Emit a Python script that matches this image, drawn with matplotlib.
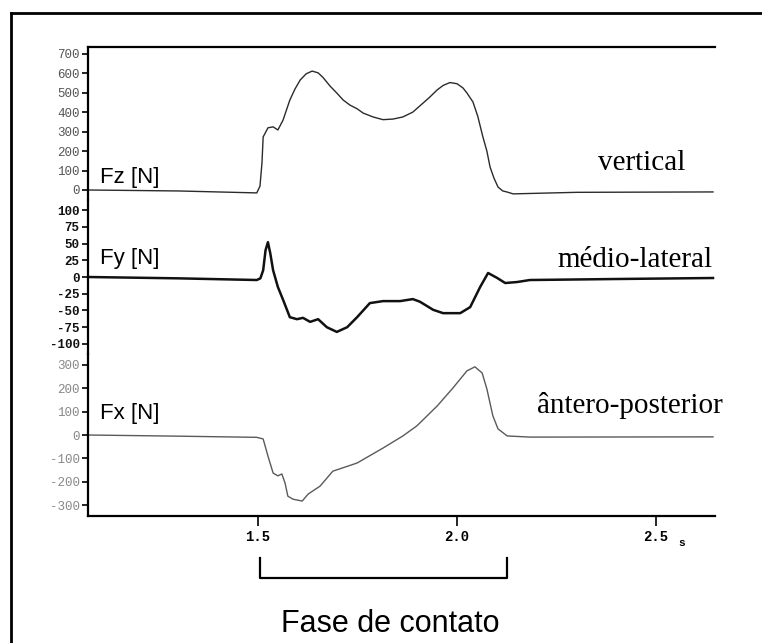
import numpy as np
import matplotlib.pyplot as plt
from matplotlib.lines import Line2D
from matplotlib.transforms import blended_transform_factory

# ground reaction force during one step (time in s, force in N)
fz_t = [1.073, 1.30, 1.497, 1.505, 1.510, 1.513, 1.525, 1.538, 1.550, 1.563,
        1.580, 1.593, 1.606, 1.621, 1.636, 1.651, 1.663, 1.681, 1.698, 1.714,
        1.731, 1.749, 1.764, 1.789, 1.814, 1.839, 1.864, 1.889, 1.915, 1.932,
        1.950, 1.965, 1.982, 2.000, 2.015, 2.025, 2.040, 2.052, 2.065, 2.075,
        2.083, 2.093, 2.103, 2.115, 2.125, 2.141, 2.30, 2.643]
fz = [0, -5, -15, 20, 139, 273, 320, 325, 309, 360,
      463, 520, 566, 598, 612, 603, 580, 535, 499, 463,
      437, 418, 396, 376, 362, 365, 376, 401, 448, 479,
      515, 538, 553, 547, 525, 499, 453, 380, 273, 200,
      118, 60, 15, -5, -10, -20, -12, -10]

fy_t = [1.073, 1.30, 1.497, 1.506, 1.513, 1.519, 1.525, 1.531, 1.538, 1.550,
        1.563, 1.580, 1.598, 1.613, 1.631, 1.651, 1.673, 1.698, 1.724, 1.749,
        1.781, 1.814, 1.857, 1.889, 1.907, 1.940, 1.965, 2.008, 2.033, 2.058,
        2.078, 2.101, 2.121, 2.151, 2.183, 2.40, 2.643]
fy = [0, -2, -4.5, -2, 10, 40, 52, 35, 10, -15,
      -34, -60, -63, -61, -67, -63, -75, -82, -75, -60,
      -39, -36, -36, -33, -37, -49, -54, -54, -45, -15,
      6, -1.5, -9, -7.5, -4.5, -3, -1.5]

fx_t = [1.073, 1.30, 1.497, 1.513, 1.525, 1.538, 1.550, 1.560, 1.568, 1.575,
        1.588, 1.611, 1.626, 1.656, 1.688, 1.749, 1.814, 1.864, 1.899, 1.950,
        1.990, 2.025, 2.045, 2.063, 2.075, 2.090, 2.103, 2.126, 2.183, 2.643]
fx = [0, -5, -10, -17, -90, -163, -175, -167, -206, -262,
      -275, -283, -253, -219, -155, -120, -56, -4, 39, 124,
      202, 275, 292, 266, 197, 82, 26, -4, -9, -8]

fz_ticks = [0, 100, 200, 300, 400, 500, 600, 700]
fy_ticks = [-100, -75, -50, -25, 0, 25, 50, 75, 100]
fx_ticks = [-300, -200, -100, 0, 100, 200, 300]
t_ticks = [1.5, 2.0, 2.5]
contato = (1.505, 2.126)   # contact phase limits

W, H = 762, 643
fig = plt.figure(figsize=(W / 100, H / 100), dpi=100)
fig.patch.set_facecolor('white')

def px_rect(top, bottom, left=88, right=715):
    return [left / W, 1 - bottom / H, (right - left) / W, (bottom - top) / H]

ax_z = fig.add_axes(px_rect(47, 200))
ax_y = fig.add_axes(px_rect(200, 354), sharex=ax_z)
ax_x = fig.add_axes(px_rect(354, 516), sharex=ax_z)

panels = [
    (ax_z, fz_t, fz, fz_ticks, (-51.5, 736), '#2b2b2b', 1.0, '#555555', 'normal'),
    (ax_y, fy_t, fy, fy_ticks, (-115, 115), '#111111', 1.8, '#111111', 'bold'),
    (ax_x, fx_t, fx, fx_ticks, (-347, 347), '#5a5a5a', 1.0, '#888888', 'normal'),
]
for ax, t, f, ticks, lim, col, lw, tcol, tw in panels:
    ax.plot(t, f, color=col, lw=lw)
    ax.set_ylim(*lim)
    ax.set_yticks(ticks)
    ax.set_yticklabels([str(v) for v in ticks], family='Liberation Mono',
                       fontsize=9, color=tcol, fontweight=tw)
    ax.tick_params(axis='y', direction='out', length=4, width=1.2, pad=2)
    for s in ['top', 'right', 'bottom']:
        ax.spines[s].set_visible(False)
    ax.spines['left'].set_linewidth(1.6)
    ax.patch.set_alpha(0)

ax_z.spines['top'].set_visible(True)
ax_z.spines['top'].set_linewidth(1.6)
ax_x.spines['bottom'].set_visible(True)
ax_x.spines['bottom'].set_linewidth(1.6)

ax_z.set_xlim(1.073, 2.648)
for ax in (ax_z, ax_y):
    ax.tick_params(axis='x', bottom=False, labelbottom=False)
ax_x.set_xticks(t_ticks)
ax_x.set_xticklabels(['%.1f' % v for v in t_ticks], family='Liberation Mono',
                     fontsize=10, fontweight='bold')
ax_x.tick_params(axis='x', direction='out', length=7, width=1.2, pad=3)
fig.text(682 / W, 1 - 543 / H, 's', family='Liberation Mono', fontsize=8,
         fontweight='bold', ha='center', va='center')

# channel names on the left
sans = 'Liberation Sans'
ax_z.text(1.103, 62, 'Fz [N]', family=sans, fontsize=16, va='center')
ax_y.text(1.103, 28, 'Fy [N]', family=sans, fontsize=16, va='center')
ax_x.text(1.103, 94, 'Fx [N]', family=sans, fontsize=16, va='center')

# direction names on the right
serif = 'Liberation Serif'
ax_z.text(2.573, 103, 'vertical', family=serif, fontsize=21, ha='right', va='baseline')
ax_y.text(2.643, 15, 'médio-lateral', family=serif, fontsize=21, ha='right', va='baseline')
ax_x.text(2.668, 94, 'ântero-posterior', family=serif, fontsize=21, ha='right', va='baseline')

# bracket marking the contact phase
tr = blended_transform_factory(ax_x.transData, fig.transFigure)
y_top, y_bot = 1 - 558 / H, 1 - 578 / H
ax_x.add_line(Line2D([contato[0], contato[0], contato[1], contato[1]],
                     [y_top, y_bot, y_bot, y_top], transform=tr,
                     color='black', lw=1.6, clip_on=False))
fig.text(390 / W, 1 - 624 / H, 'Fase de contato', family=sans, fontsize=22,
         ha='center', va='center')

# outer frame
fx0, fy0 = 11 / W, 1 - 13 / H
fig.add_artist(Line2D([fx0, fx0], [0, fy0], transform=fig.transFigure, color='black', lw=2))
fig.add_artist(Line2D([fx0, 1], [fy0, fy0], transform=fig.transFigure, color='black', lw=2))

fig.savefig('out.png', dpi=100)
